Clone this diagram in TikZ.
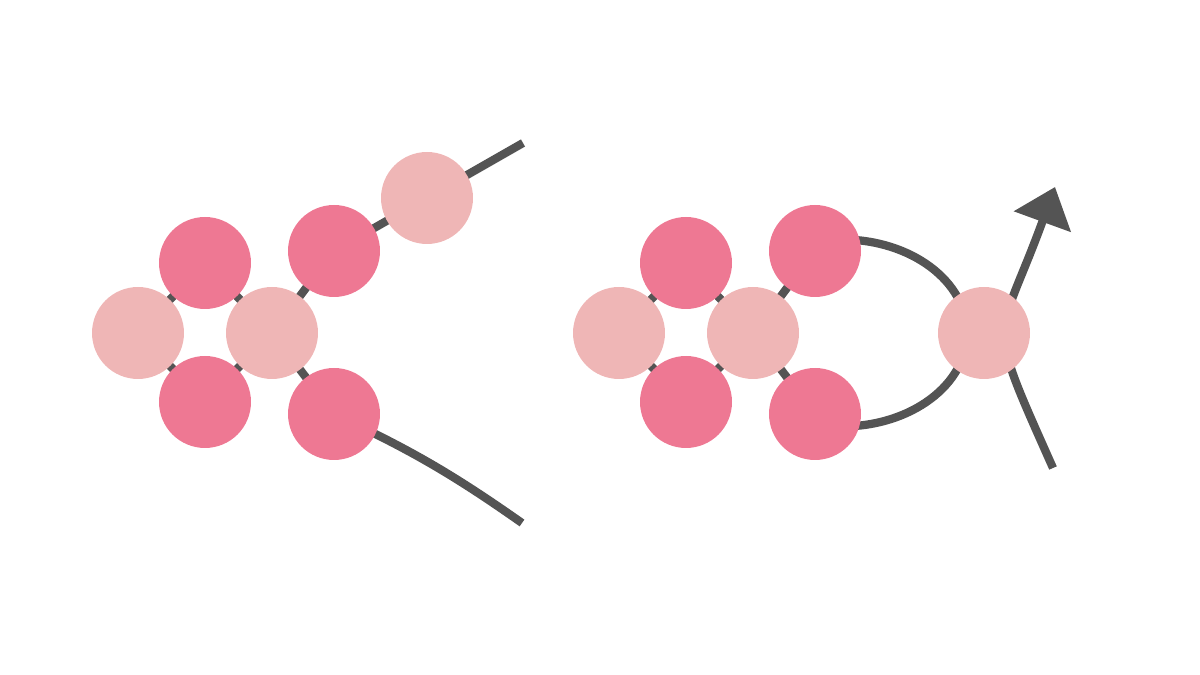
\documentclass[tikz,border=0pt]{standalone}
\usepackage{tikz}
\usetikzlibrary{arrows.meta,positioning,backgrounds,calc}
\definecolor{darkpink}{HTML}{EE7893}
\definecolor{lightpink}{HTML}{EFB6B6}
\definecolor{bondgray}{HTML}{545454}

\begin{document}
\begin{tikzpicture}[x=0.02cm, y=0.02cm,
  atom/.style={circle, inner sep=0pt, minimum size=1.84cm},
  dark/.style={atom, fill=darkpink},
  light/.style={atom, fill=lightpink},
  bond/.style={draw=bondgray, line width=0.165cm}]
\useasboundingbox (0,0) rectangle (1200,675);

% Left: ring with the chain still open
\node[light] (l1) at (138,342) {};
\node[dark] (l2) at (205,412) {};
\node[dark] (l3) at (205,273) {};
\node[light] (l4) at (272,342) {};
\node[dark] (l5) at (334,424) {};
\node[dark] (l6) at (334,261) {};
\node[light] (l7) at (427,477) {};
\coordinate (ltop) at (523,532);
\coordinate (lbot) at (522,152);

% Right: chain closed through the new atom
\node[light] (r1) at (619,342) {};
\node[dark] (r2) at (686,412) {};
\node[dark] (r3) at (686,273) {};
\node[light] (r4) at (753,342) {};
\node[dark] (r5) at (815,424) {};
\node[dark] (r6) at (815,261) {};
\node[light] (r7) at (984,342) {};
\coordinate (rin) at (1053,207);
\coordinate (rout) at (1055,488);

\begin{scope}[on background layer]
\draw[bond] (l1.center) -- (l2.center) -- (l4.center) -- (l3.center) -- cycle;
\draw[bond] (l4.center) -- (l5.center) -- (ltop);
\draw[bond] (l4.center) -- (l6.center);
\draw[bond] (l6.center) to[bend left=5] (lbot);

\draw[bond] (r1.center) -- (r2.center) -- (r4.center) -- (r3.center) -- cycle;
\draw[bond] (r4.center) -- (r5.center);
\draw[bond] (r4.center) -- (r6.center);
\draw[bond] ($(r5.center)+(27,11.5)$) arc[start angle=90, end angle=-90, x radius=125, y radius=93.5];

% Arrow through the new atom
\draw[bond, -{Triangle[length=0.74cm, width=1.18cm]}] (rin) to[out=114, in=-110, looseness=1.55] (rout);
\end{scope}
\end{tikzpicture}
\end{document}
